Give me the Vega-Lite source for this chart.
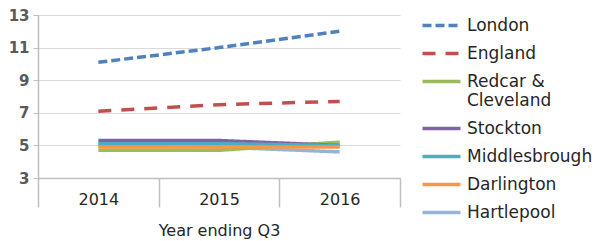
{
  "$schema": "https://vega.github.io/schema/vega-lite/v6.json",
  "width": 362,
  "height": 163,
  "autosize": {"type": "none"},
  "padding": {"left": 38, "top": 15, "right": 200, "bottom": 63},
  "background": "white",
  "config": {
    "view": {"stroke": null},
    "font": "DejaVu Sans",
    "axis": {"labelFont": "DejaVu Sans", "titleFont": "DejaVu Sans"},
    "legend": {"labelFont": "DejaVu Sans"}
  },
  "data": {
    "values": [
      {"year": "2014", "area": "London", "value": 10.1},
      {"year": "2015", "area": "London", "value": 11.0},
      {"year": "2016", "area": "London", "value": 12.0},
      {"year": "2014", "area": "England", "value": 7.1},
      {"year": "2015", "area": "England", "value": 7.5},
      {"year": "2016", "area": "England", "value": 7.7},
      {"year": "2014", "area": "Hartlepool", "value": 5.0},
      {"year": "2015", "area": "Hartlepool", "value": 4.9},
      {"year": "2016", "area": "Hartlepool", "value": 4.6},
      {"year": "2014", "area": "Redcar & Cleveland", "value": 4.7},
      {"year": "2015", "area": "Redcar & Cleveland", "value": 4.7},
      {"year": "2016", "area": "Redcar & Cleveland", "value": 5.2},
      {"year": "2014", "area": "Stockton", "value": 5.3},
      {"year": "2015", "area": "Stockton", "value": 5.3},
      {"year": "2016", "area": "Stockton", "value": 5.0},
      {"year": "2014", "area": "Middlesbrough", "value": 5.1},
      {"year": "2015", "area": "Middlesbrough", "value": 5.1},
      {"year": "2016", "area": "Middlesbrough", "value": 5.0},
      {"year": "2014", "area": "Darlington", "value": 4.9},
      {"year": "2015", "area": "Darlington", "value": 4.9},
      {"year": "2016", "area": "Darlington", "value": 4.9}
    ]
  },
  "mark": {"type": "line", "strokeWidth": 3.5, "strokeCap": "butt"},
  "encoding": {
    "x": {
      "field": "year",
      "type": "ordinal",
      "scale": {"type": "band", "paddingInner": 0, "paddingOuter": 0},
      "axis": {
        "title": "Year ending Q3",
        "titleFontSize": 16,
        "titleFontWeight": "normal",
        "titleColor": "#262626",
        "titlePadding": 15,
        "labelAngle": 0,
        "labelFontSize": 16,
        "labelColor": "#262626",
        "labelPadding": -16,
        "tickBand": "extent",
        "tickSize": 29,
        "tickColor": "#bfbfbf",
        "tickWidth": 1.5,
        "domainColor": "#bfbfbf",
        "domainWidth": 1.5,
        "grid": false
      }
    },
    "y": {
      "field": "value",
      "type": "quantitative",
      "scale": {"domain": [3, 13], "nice": false, "zero": false},
      "axis": {
        "title": null,
        "values": [3, 5, 7, 9, 11, 13],
        "labelFontSize": 15,
        "labelFontWeight": "bold",
        "labelColor": "#595959",
        "labelPadding": 4,
        "tickSize": 5,
        "tickColor": "#bfbfbf",
        "domainColor": "#bfbfbf",
        "domainWidth": 1.5,
        "gridColor": "#d9d9d9",
        "gridWidth": 1
      }
    },
    "color": {
      "field": "area",
      "type": "nominal",
      "scale": {
        "domain": ["London", "England", "Redcar & Cleveland", "Stockton", "Middlesbrough", "Darlington", "Hartlepool"],
        "range": ["#4F81BD", "#C0504D", "#9BBB59", "#8064A2", "#4BACC6", "#F79646", "#95B3D7"]
      },
      "legend": {
        "title": null,
        "orient": "none",
        "legendX": 392,
        "legendY": -1,
        "symbolType": "M-2,0H2",
        "symbolSize": 361,
        "symbolStrokeWidth": 3.5,
        "labelFontSize": 17,
        "labelColor": "#262626",
        "labelOffset": 14,
        "rowPadding": 8,
        "labelExpr": "datum.label == 'Redcar & Cleveland' ? ['Redcar &', 'Cleveland'] : datum.label"
      }
    },
    "strokeDash": {
      "field": "area",
      "type": "nominal",
      "scale": {
        "domain": ["London", "England", "Redcar & Cleveland", "Stockton", "Middlesbrough", "Darlington", "Hartlepool"],
        "range": [[9, 4], [13, 10], [1, 0], [1, 0], [1, 0], [1, 0], [1, 0]]
      },
      "legend": null
    },
    "order": {"field": "area"}
  }
}
